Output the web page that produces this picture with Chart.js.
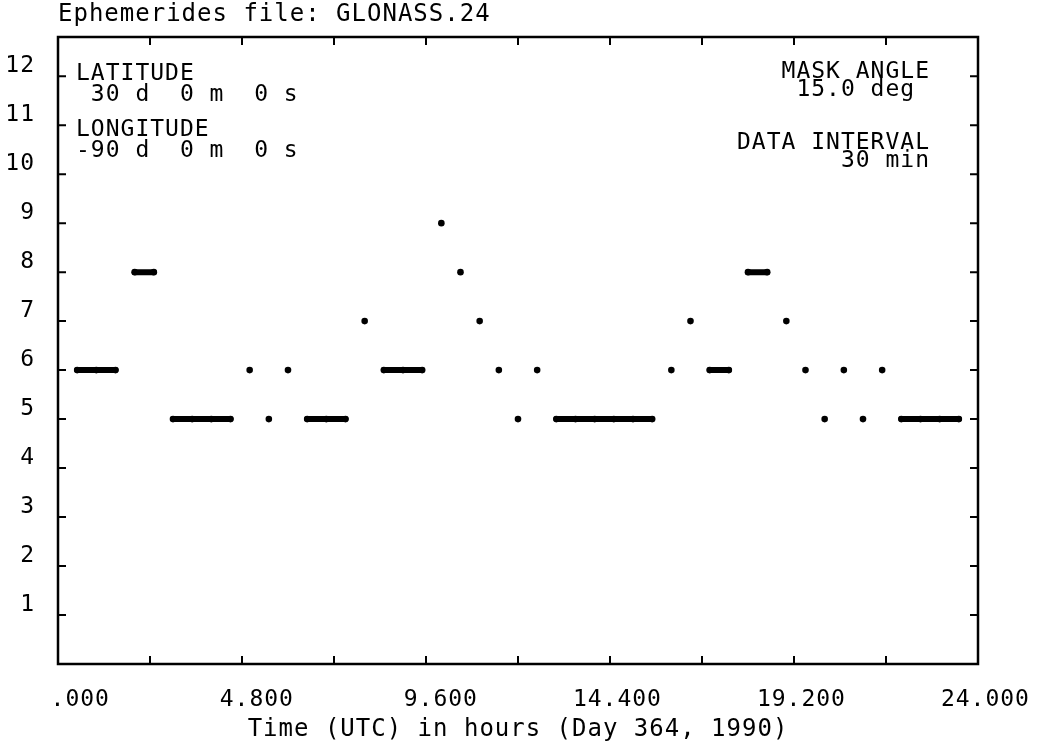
<!DOCTYPE html>
<html lang="en">
<head>
  <meta charset="UTF-8">
  <title>GLONASS visibility</title>
  <script src="https://cdn.jsdelivr.net/npm/chart.js"></script>
  <style>
    body {
      margin: 0;
      background: #fff;
    }
    .chart-box {
      position: relative;
      width: 1042px;
      height: 748px;
    }
  </style>
</head>
<body>
  <div class="chart-box">
    <canvas id="visChart"></canvas>
  </div>
  <script>
    // time of each sample (hours UTC) and number of satellites in view
    var hours = [0.5, 1.0, 1.5, 2.0, 2.5, 3.0, 3.5, 4.0, 4.5, 5.0, 5.5, 6.0,
                 6.5, 7.0, 7.5, 8.0, 8.5, 9.0, 9.5, 10.0, 10.5, 11.0, 11.5, 12.0,
                 12.5, 13.0, 13.5, 14.0, 14.5, 15.0, 15.5, 16.0, 16.5, 17.0, 17.5, 18.0,
                 18.5, 19.0, 19.5, 20.0, 20.5, 21.0, 21.5, 22.0, 22.5, 23.0, 23.5];
    var satellites = [6, 6, 6, 8, 8, 5, 5, 5, 5, 6, 5, 6,
                      5, 5, 5, 7, 6, 6, 6, 9, 8, 7, 6, 5,
                      6, 5, 5, 5, 5, 5, 5, 6, 7, 6, 6, 8,
                      8, 7, 6, 5, 6, 5, 6, 5, 5, 5, 5];

    var xTickValues = [0, 2.4, 4.8, 7.2, 9.6, 12, 14.4, 16.8, 19.2, 21.6, 24];
    var xTickLabels = ['.000', '4.800', '9.600', '14.400', '19.200', '24.000'];
    var yTickValues = [0, 1, 2, 3, 4, 5, 6, 7, 8, 9, 10, 11, 12];
    var yTickLabels = ['', '1', '2', '3', '4', '5', '6', '7', '8', '9', '10', '11', '12'];

    var FONT = '"DejaVu Sans Mono", monospace';

    // plot frame with inward ticks plus the site info text
    var framePlugin = {
      id: 'frame',
      beforeLayout: function(chart) { chart.ctx.letterSpacing = '1px'; },
      beforeDraw: function(chart) { chart.ctx.letterSpacing = '1px'; },
      afterDraw: function(chart) {
        var ctx = chart.ctx;
        var a = chart.chartArea;
        var xs = chart.scales.x;
        var ys = chart.scales.y;
        ctx.save();
        ctx.strokeStyle = '#000';
        ctx.lineWidth = 2.5;
        ctx.strokeRect(a.left, a.top, a.right - a.left, a.bottom - a.top);
        ctx.lineWidth = 2;
        ctx.beginPath();
        xs.ticks.forEach(function(t) {
          if (t.value <= xs.min || t.value >= xs.max) return;
          var px = xs.getPixelForValue(t.value);
          ctx.moveTo(px, a.bottom); ctx.lineTo(px, a.bottom - 8);
          ctx.moveTo(px, a.top); ctx.lineTo(px, a.top + 8);
        });
        ys.ticks.forEach(function(t) {
          if (t.value <= ys.min) return;
          var py = ys.getPixelForValue(t.value);
          ctx.moveTo(a.left, py); ctx.lineTo(a.left + 8, py);
          ctx.moveTo(a.right, py); ctx.lineTo(a.right - 8, py);
        });
        ctx.stroke();

        ctx.fillStyle = '#000';
        ctx.font = '23px ' + FONT;
        ctx.letterSpacing = '1px';
        ctx.textBaseline = 'middle';
        ctx.textAlign = 'left';
        ctx.fillText('LATITUDE', a.left + 18, 74);
        ctx.fillText(' 30 d  0 m  0 s', a.left + 18, 95);
        ctx.fillText('LONGITUDE', a.left + 18, 130);
        ctx.fillText('-90 d  0 m  0 s', a.left + 18, 151);
        ctx.textAlign = 'right';
        ctx.fillText('MASK ANGLE', a.right - 48, 72);
        ctx.fillText('15.0 deg ', a.right - 48, 90);
        ctx.fillText('DATA INTERVAL', a.right - 48, 143);
        ctx.fillText('30 min', a.right - 48, 161);
        ctx.restore();
      }
    };

    var points = hours.map(function(h, i) { return { x: h, y: satellites[i] }; });

    new Chart(document.getElementById('visChart'), {
      type: 'line',
      data: {
        datasets: [{
          data: points,
          borderColor: '#000',
          borderWidth: 6,
          borderCapStyle: 'round',
          pointRadius: 3.3,
          pointBorderWidth: 0,
          pointBackgroundColor: '#000',
          segment: {
            // only join consecutive samples that have the same count
            borderColor: function(c) {
              return c.p0.parsed.y === c.p1.parsed.y ? '#000' : 'rgba(0,0,0,0)';
            }
          }
        }]
      },
      options: {
        responsive: true,
        maintainAspectRatio: false,
        animation: false,
        layout: { padding: { left: 0, right: 64, top: 0, bottom: 0 } },
        plugins: {
          legend: { display: false },
          tooltip: { enabled: false },
          title: {
            display: true,
            text: 'Ephemerides file: GLONASS.24',
            align: 'start',
            fullSize: false,
            color: '#000',
            font: { family: FONT, size: 24, weight: 'normal' },
            padding: { top: 0, bottom: 8.2 }
          }
        },
        scales: {
          x: {
            type: 'linear',
            min: 0,
            max: 24,
            afterBuildTicks: function(axis) {
              axis.ticks = xTickValues.map(function(v) { return { value: v }; });
            },
            afterFit: function(axis) {
              axis.height = 84;
              axis.paddingLeft = 0;
              axis.paddingRight = 0;
            },
            grid: { display: false, drawTicks: false },
            border: { display: false },
            ticks: {
              autoSkip: false,
              maxRotation: 0,
              padding: 22,
              color: '#000',
              font: { family: FONT, size: 23 },
              callback: function(value, index) {
                return index % 2 === 0 ? xTickLabels[index / 2].padStart(7, ' ') : '';
              }
            },
            title: {
              display: true,
              text: 'Time (UTC) in hours (Day 364, 1990)',
              color: '#000',
              font: { family: FONT, size: 24 },
              padding: { top: 1, bottom: 4 }
            }
          },
          y: {
            min: 0,
            max: 12.8,
            afterBuildTicks: function(axis) {
              axis.ticks = yTickValues.map(function(v) { return { value: v }; });
            },
            afterFit: function(axis) { axis.width = 58; },
            grid: { display: false, drawTicks: false },
            border: { display: false },
            ticks: {
              autoSkip: false,
              padding: 23,
              labelOffset: -10,
              color: '#000',
              font: { family: FONT, size: 23 },
              callback: function(value, index) { return yTickLabels[index]; }
            }
          }
        }
      },
      plugins: [framePlugin]
    });
  </script>
</body>
</html>
